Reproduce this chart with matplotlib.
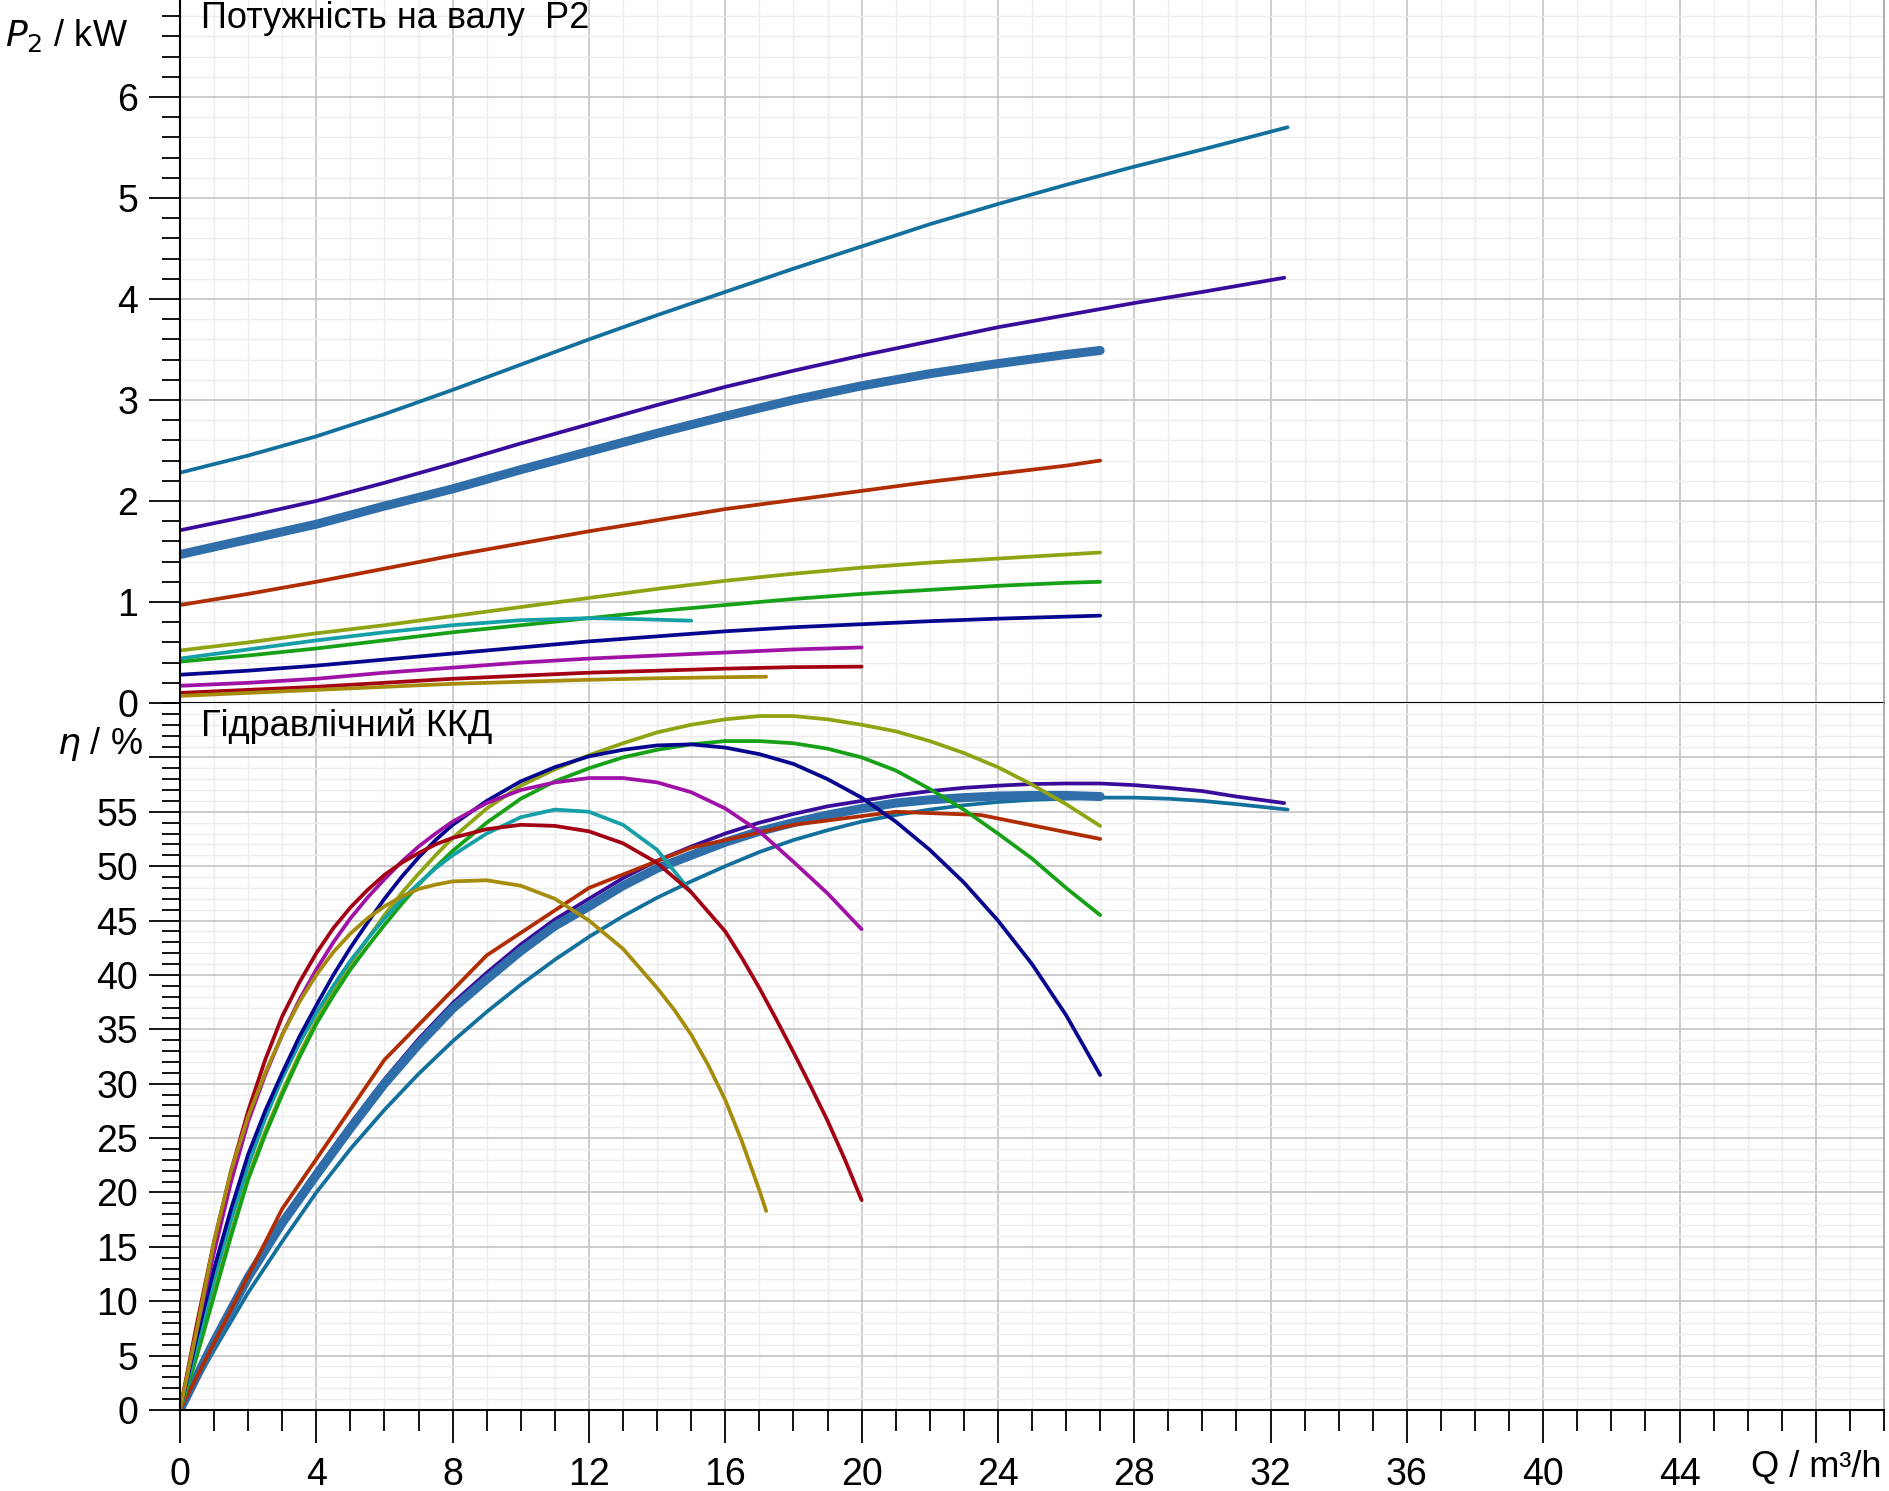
import matplotlib
matplotlib.use("Agg")
import matplotlib.pyplot as plt
from matplotlib.ticker import MultipleLocator, FixedLocator

plt.rcParams['font.family'] = ['Liberation Sans', 'DejaVu Sans']

# ---------------- data: shaft power P2 (kW) ----------------
q_p_tealblue = [0, 2, 4, 6, 8, 10, 12, 14, 16, 18, 20, 22, 24, 26, 28, 30, 32.5]
p_tealblue = [2.28, 2.45, 2.64, 2.86, 3.10, 3.35, 3.60, 3.84, 4.07, 4.30, 4.52, 4.74, 4.94, 5.13, 5.31, 5.48, 5.70]
q_p_indigo = [0, 2, 4, 6, 8, 10, 12, 14, 16, 18, 20, 22, 24, 26, 28, 30, 32.4]
p_indigo = [1.71, 1.85, 2.00, 2.18, 2.37, 2.57, 2.76, 2.95, 3.13, 3.29, 3.44, 3.58, 3.72, 3.84, 3.96, 4.07, 4.21]
q_p_thick = [0, 2, 4, 6, 8, 10, 12, 14, 16, 18, 20, 22, 24, 26, 27]
p_thick = [1.47, 1.62, 1.77, 1.95, 2.12, 2.31, 2.49, 2.67, 2.84, 3.00, 3.14, 3.26, 3.36, 3.45, 3.49]
q_p_rust = [0, 2, 4, 6, 8, 10, 12, 14, 16, 18, 20, 22, 24, 26, 27]
p_rust = [0.97, 1.08, 1.20, 1.33, 1.46, 1.58, 1.70, 1.81, 1.92, 2.01, 2.10, 2.19, 2.27, 2.35, 2.40]
q_p_olive = [0, 2, 4, 6, 8, 10, 12, 14, 16, 18, 20, 22, 24, 26, 27]
p_olive = [0.52, 0.60, 0.69, 0.77, 0.86, 0.95, 1.04, 1.13, 1.21, 1.28, 1.34, 1.39, 1.43, 1.47, 1.49]
q_p_green = [0, 2, 4, 6, 8, 10, 12, 14, 16, 18, 20, 22, 24, 26, 27]
p_green = [0.41, 0.47, 0.54, 0.62, 0.70, 0.77, 0.84, 0.91, 0.97, 1.03, 1.08, 1.12, 1.16, 1.19, 1.20]
q_p_teal = [0, 2, 4, 6, 8, 10, 12, 13.5, 15]
p_teal = [0.44, 0.53, 0.62, 0.70, 0.77, 0.82, 0.84, 0.83, 0.815]
q_p_navy = [0, 2, 4, 6, 8, 10, 12, 14, 16, 18, 20, 22, 24, 26, 27]
p_navy = [0.28, 0.32, 0.37, 0.43, 0.49, 0.55, 0.61, 0.66, 0.71, 0.75, 0.78, 0.81, 0.835, 0.855, 0.865]
q_p_magenta = [0, 2, 4, 6, 8, 10, 12, 14, 16, 18, 20]
p_magenta = [0.17, 0.20, 0.24, 0.30, 0.35, 0.40, 0.44, 0.47, 0.50, 0.53, 0.55]
q_p_darkred = [0, 2, 4, 6, 8, 10, 12, 14, 16, 18, 20]
p_darkred = [0.10, 0.13, 0.16, 0.20, 0.24, 0.27, 0.30, 0.32, 0.34, 0.355, 0.36]
q_p_gold = [0, 2, 4, 6, 8, 10, 12, 14, 16, 17.2]
p_gold = [0.07, 0.10, 0.13, 0.16, 0.19, 0.21, 0.23, 0.245, 0.255, 0.26]

# ---------------- data: hydraulic efficiency (%) ----------------
q_e_tealblue = [0, 1, 2, 3, 4, 5, 6, 7, 8, 9, 10, 11, 12, 13, 14, 15, 16, 17, 18, 19, 20,
                21, 22, 23, 24, 25, 26, 27, 28, 29, 30, 31, 32.5]
e_tealblue = [0, 5.5, 10.8, 15.5, 20.0, 24.0, 27.6, 30.9, 33.9, 36.6, 39.1, 41.4, 43.5, 45.4, 47.1,
              48.6, 50.0, 51.3, 52.4, 53.3, 54.1, 54.7, 55.2, 55.6, 55.9, 56.1, 56.2, 56.3, 56.3,
              56.2, 56.0, 55.7, 55.2]
q_e_indigo = [0, 1, 2, 3, 4, 5, 6, 7, 8, 9, 10, 11, 12, 13, 14, 15, 16, 17, 18, 19, 20,
              21, 22, 23, 24, 25, 26, 27, 28, 29, 30, 31, 32.4]
e_indigo = [0, 6.4, 12.4, 17.5, 22.0, 26.3, 30.4, 34.1, 37.4, 40.2, 42.8, 45.1, 47.0, 48.9, 50.5,
            51.8, 53.0, 54.0, 54.8, 55.5, 56.0, 56.5, 56.9, 57.2, 57.4, 57.55, 57.6, 57.6, 57.45,
            57.2, 56.9, 56.4, 55.8]
q_e_thick = [0, 1, 2, 3, 4, 5, 6, 7, 8, 9, 10, 11, 12, 13, 14, 15, 16, 17, 18, 19, 20,
             21, 22, 23, 24, 25, 26, 27]
e_thick = [0, 6.3, 12.2, 17.2, 21.6, 25.9, 30.0, 33.6, 36.9, 39.6, 42.2, 44.5, 46.3, 48.2, 49.8,
           51.0, 52.2, 53.2, 54.0, 54.7, 55.3, 55.8, 56.1, 56.3, 56.45, 56.5, 56.5, 56.4]
q_e_rust = [0, 3, 6, 9, 12, 15, 18, 21, 23.5, 27]
e_rust = [0, 18.5, 32.2, 41.8, 48.0, 51.7, 53.8, 55.0, 54.7, 52.5]
q_e_olive = [0, 0.5, 1, 1.5, 2, 2.5, 3, 3.5, 4, 4.5, 5, 5.5, 6, 6.5, 7, 7.5, 8, 9, 10, 11, 12,
             13, 14, 15, 16, 17, 18, 19, 20, 21, 22, 23, 24, 25, 26, 27]
e_olive = [0, 5.2, 10.8, 16.3, 21.5, 25.6, 29.3, 32.7, 35.8, 38.5, 41.0, 43.3, 45.5, 47.5, 49.3,
           51.0, 52.6, 55.3, 57.4, 58.9, 60.2, 61.3, 62.3, 63.0, 63.5, 63.8, 63.8, 63.5, 63.0,
           62.4, 61.5, 60.4, 59.1, 57.5, 55.7, 53.7]
q_e_green = [0, 0.5, 1, 1.5, 2, 2.5, 3, 3.5, 4, 4.5, 5, 5.5, 6, 6.5, 7, 7.5, 8, 9, 10, 11, 12,
             13, 14, 15, 16, 17, 18, 19, 20, 21, 22, 23, 24, 25, 26, 27]
e_green = [0, 5.0, 10.5, 16.0, 21.2, 25.3, 29.0, 32.4, 35.5, 38.1, 40.5, 42.6, 44.6, 46.5, 48.3,
           49.9, 51.4, 54.0, 56.2, 57.8, 59.0, 60.0, 60.7, 61.2, 61.5, 61.5, 61.3, 60.8, 60.0,
           58.8, 57.1, 55.2, 53.0, 50.7, 48.0, 45.5]
q_e_teal = [0, 0.5, 1, 1.5, 2, 2.5, 3, 3.5, 4, 4.5, 5, 5.5, 6, 6.5, 7, 7.5, 8, 9, 10, 11, 12,
            13, 14, 15]
e_teal = [0, 6.0, 12.0, 17.5, 22.5, 26.8, 30.5, 33.7, 36.5, 39.0, 41.3, 43.3, 45.2, 46.9, 48.4,
          49.8, 51.0, 53.0, 54.5, 55.2, 55.0, 53.8, 51.5, 47.6]
q_e_navy = [0, 0.5, 1, 1.5, 2, 2.5, 3, 3.5, 4, 4.5, 5, 5.5, 6, 6.5, 7, 7.5, 8, 9, 10, 11, 12,
            13, 14, 15, 16, 17, 18, 19, 20, 21, 22, 23, 24, 25, 26, 27]
e_navy = [0, 6.8, 13.0, 18.5, 23.5, 27.5, 31.0, 34.3, 37.2, 40.0, 42.5, 44.8, 47.0, 49.0, 50.8,
          52.4, 53.8, 56.0, 57.8, 59.1, 60.1, 60.7, 61.1, 61.2, 60.9, 60.3, 59.4, 58.0, 56.3,
          54.1, 51.5, 48.5, 45.0, 41.0, 36.3, 30.8]
q_e_magenta = [0, 0.5, 1, 1.5, 2, 2.5, 3, 3.5, 4, 4.5, 5, 5.5, 6, 6.5, 7, 7.5, 8, 9, 10, 11,
               12, 13, 14, 15, 16, 17, 18, 19, 20]
e_magenta = [0, 7.5, 14.5, 21.0, 26.5, 30.8, 34.5, 37.7, 40.5, 43.0, 45.2, 47.1, 48.8, 50.4, 51.8,
             53.0, 54.1, 55.8, 57.0, 57.7, 58.1, 58.1, 57.7, 56.8, 55.3, 53.2, 50.4, 47.5, 44.2]
q_e_darkred = [0, 0.5, 1, 1.5, 2, 2.5, 3, 3.5, 4, 4.5, 5, 5.5, 6, 6.5, 7, 7.5, 8, 9, 10, 11,
               12, 13, 14, 15, 16, 16.5, 17, 17.5, 18, 18.5, 19, 19.5, 20]
e_darkred = [0, 8.0, 15.5, 22.0, 27.5, 32.2, 36.2, 39.3, 42.0, 44.3, 46.2, 47.8, 49.2, 50.3, 51.2,
             52.0, 52.6, 53.4, 53.8, 53.7, 53.2, 52.1, 50.3, 47.6, 44.0, 41.5, 38.8, 35.9, 32.9,
             29.8, 26.6, 23.1, 19.3]
q_e_gold = [0, 0.5, 1, 1.5, 2, 2.5, 3, 3.5, 4, 4.5, 5, 5.5, 6, 6.5, 7, 7.5, 8, 9, 10, 11, 12,
            13, 14, 14.5, 15, 15.5, 16, 16.5, 17, 17.2]
e_gold = [0, 7.5, 15.5, 22.0, 27.0, 31.0, 34.5, 37.5, 40.0, 42.1, 43.8, 45.2, 46.3, 47.2, 47.9,
          48.3, 48.6, 48.7, 48.2, 47.0, 45.0, 42.4, 38.8, 36.8, 34.5, 31.7, 28.5, 24.6, 20.2, 18.3]

x_ticks = [0, 4, 8, 12, 16, 20, 24, 28, 32, 36, 40, 44, 48]
x_ticklabels = ['0', '4', '8', '12', '16', '20', '24', '28', '32', '36', '40', '44', '']
p_ticks = [0, 1, 2, 3, 4, 5, 6]
p_ticklabels = ['0', '1', '2', '3', '4', '5', '6']
e_ticks = [0, 5, 10, 15, 20, 25, 30, 35, 40, 45, 50, 55, 60]
e_ticklabels = ['0', '5', '10', '15', '20', '25', '30', '35', '40', '45', '50', '55', '']

C_TEALBLUE = '#13709c'
C_INDIGO = '#3a0c9c'
C_THICK = '#2f6ea8'
C_RUST = '#b02c02'
C_OLIVE = '#90a413'
C_GREEN = '#17a117'
C_TEAL = '#14a0a6'
C_NAVY = '#06068e'
C_MAGENTA = '#a012a6'
C_DARKRED = '#a20214'
C_GOLD = '#a68c0c'

W, H = 1890, 1491
fig = plt.figure(figsize=(W / 100, H / 100), dpi=100)
left_px, right_px = 180, 1884
top_px, mid_px, bot_px = 0, 703, 1410
ax1 = fig.add_axes([left_px / W, 1 - mid_px / H, (right_px - left_px) / W, (mid_px - top_px) / H])
ax2 = fig.add_axes([left_px / W, 1 - bot_px / H, (right_px - left_px) / W, (bot_px - mid_px) / H])

LW = 2.7
kw = dict(lw=LW, solid_capstyle='round', solid_joinstyle='round')
kw_thick = dict(lw=6.5, solid_capstyle='round', solid_joinstyle='round')

# power curves
ax1.plot(q_p_tealblue, p_tealblue, color=C_TEALBLUE, **kw)
ax1.plot(q_p_indigo, p_indigo, color=C_INDIGO, **kw)
ax1.plot(q_p_thick, p_thick, color=C_THICK, **kw_thick)
ax1.plot(q_p_rust, p_rust, color=C_RUST, **kw)
ax1.plot(q_p_olive, p_olive, color=C_OLIVE, **kw)
ax1.plot(q_p_green, p_green, color=C_GREEN, **kw)
ax1.plot(q_p_teal, p_teal, color=C_TEAL, **kw)
ax1.plot(q_p_navy, p_navy, color=C_NAVY, **kw)
ax1.plot(q_p_magenta, p_magenta, color=C_MAGENTA, **kw)
ax1.plot(q_p_darkred, p_darkred, color=C_DARKRED, **kw)
ax1.plot(q_p_gold, p_gold, color=C_GOLD, **kw)

# efficiency curves
ax2.plot(q_e_tealblue, e_tealblue, color=C_TEALBLUE, **kw)
ax2.plot(q_e_indigo, e_indigo, color=C_INDIGO, **kw)
ax2.plot(q_e_thick, e_thick, color=C_THICK, **kw_thick)
ax2.plot(q_e_rust, e_rust, color=C_RUST, lw=LW, solid_capstyle='round')
ax2.plot(q_e_olive, e_olive, color=C_OLIVE, **kw)
ax2.plot(q_e_green, e_green, color=C_GREEN, **kw)
ax2.plot(q_e_teal, e_teal, color=C_TEAL, **kw)
ax2.plot(q_e_navy, e_navy, color=C_NAVY, **kw)
ax2.plot(q_e_magenta, e_magenta, color=C_MAGENTA, **kw)
ax2.plot(q_e_darkred, e_darkred, color=C_DARKRED, **kw)
ax2.plot(q_e_gold, e_gold, color=C_GOLD, **kw)

TICK_FS = 27
for ax in (ax1, ax2):
    ax.set_xlim(0, 50)
    ax.xaxis.set_major_locator(FixedLocator(x_ticks))
    ax.xaxis.set_minor_locator(MultipleLocator(1))
    ax.grid(which='major', color='#c4c4c4', lw=1.2, zorder=0)
    ax.grid(which='minor', color='#ececec', lw=1.0, zorder=0)
    ax.set_axisbelow(True)
    ax.spines['top'].set_visible(False)
    ax.spines['right'].set_color('#a0a0a0')
    ax.spines['right'].set_linewidth(1.2)
    ax.spines['left'].set_color('black')
    ax.spines['left'].set_linewidth(1.5)
    ax.spines['bottom'].set_color('black')
    ax.spines['bottom'].set_linewidth(1.5)
    ax.tick_params(axis='y', which='major', direction='out', length=22, width=1.3,
                   labelsize=TICK_FS, pad=8, colors='black')
    ax.tick_params(axis='y', which='minor', direction='out', length=13, width=1.3)
    ax.set_facecolor('white')

ax1.set_ylim(0, 6.96)
ax1.yaxis.set_major_locator(FixedLocator(p_ticks))
ax1.set_yticklabels(p_ticklabels)
ax1.yaxis.set_minor_locator(MultipleLocator(0.2))
ax1.tick_params(axis='x', which='both', bottom=False, labelbottom=False)

ax2.set_ylim(0, 65)
ax2.yaxis.set_major_locator(FixedLocator(e_ticks))
ax2.set_yticklabels(e_ticklabels)
ax2.yaxis.set_minor_locator(MultipleLocator(1))
ax2.set_xticks(x_ticks)
ax2.set_xticklabels(x_ticklabels)
ax2.tick_params(axis='x', which='major', direction='out', length=24, width=1.3,
                labelsize=TICK_FS, pad=10)
ax2.tick_params(axis='x', which='minor', direction='out', length=15, width=1.3)

def ftext(x, y, s, **k):
    fig.text(x / W, 1 - y / H, s, **k)

ftext(201, 19, 'Потужність на валу  P2', fontsize=26, ha='left', va='center')
ftext(201, 726, 'Гідравлічний ККД', fontsize=26, ha='left', va='center')
ftext(128, 35, r'$\mathit{P}_{2}$ / kW', fontsize=26, ha='right', va='center')
ftext(143, 744, r'$\mathit{\eta}$ / %', fontsize=26, ha='right', va='center')
ftext(1882, 1468, 'Q / m³/h', fontsize=26, ha='right', va='center')

fig.savefig('out.png', dpi=100, facecolor='white')
